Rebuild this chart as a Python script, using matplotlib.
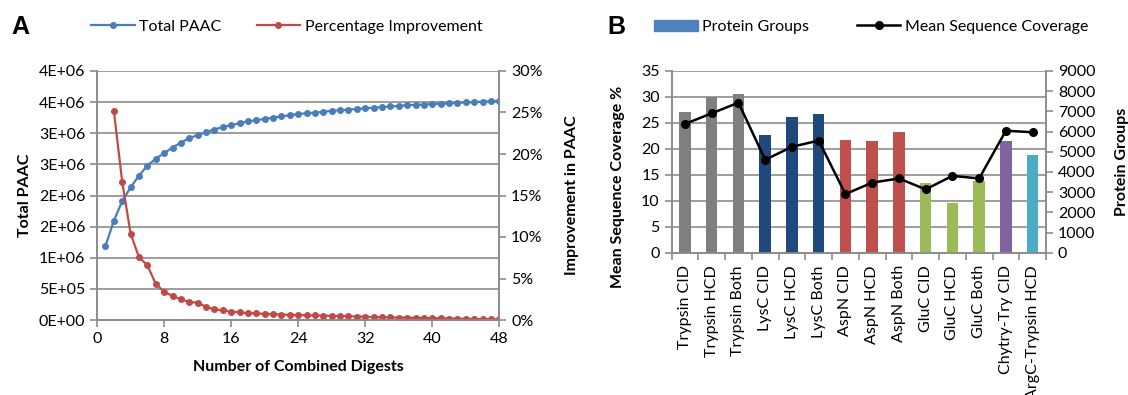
import matplotlib
matplotlib.use('Agg')
import matplotlib.pyplot as plt
from matplotlib.lines import Line2D
from matplotlib.patches import Patch

plt.rcParams['font.family'] = ['Lato', 'DejaVu Sans']

# panel A data
digests = list(range(1, 49))
total_paac = [1.19e6, 1.595e6, 1.91e6, 2.13e6, 2.32e6, 2.48e6, 2.59e6, 2.68e6,
              2.77e6, 2.85e6, 2.92e6, 2.97e6, 3.02e6, 3.06e6, 3.10e6, 3.13e6,
              3.16e6, 3.19e6, 3.21e6, 3.23e6, 3.25e6, 3.27e6, 3.29e6, 3.31e6,
              3.32e6, 3.33e6, 3.345e6, 3.36e6, 3.37e6, 3.38e6, 3.39e6, 3.40e6,
              3.41e6, 3.42e6, 3.43e6, 3.44e6, 3.45e6, 3.455e6, 3.46e6, 3.47e6,
              3.475e6, 3.48e6, 3.49e6, 3.495e6, 3.50e6, 3.51e6, 3.515e6, 3.52e6]
impr_x = list(range(2, 49))
improvement = [25.2, 16.6, 10.4, 7.55, 6.6, 4.34, 3.41, 2.89, 2.49, 2.17, 2.09,
               1.6, 1.29, 1.17, 1.0, 0.92, 0.84, 0.8, 0.74, 0.7, 0.66, 0.62,
               0.6, 0.57, 0.55, 0.52, 0.5, 0.47, 0.45, 0.42, 0.4, 0.37, 0.35,
               0.32, 0.3, 0.28, 0.26, 0.24, 0.22, 0.2, 0.18, 0.16, 0.14, 0.12,
               0.11, 0.1, 0.08]
paac_ticks = [0, 5e5, 1e6, 1.5e6, 2e6, 2.5e6, 3e6, 3.5e6, 4e6]
paac_labels = ['0E+00', '5E+05', '1E+06', '2E+06', '2E+06', '3E+06', '3E+06', '4E+06', '4E+06']
pct_ticks = [0, 5, 10, 15, 20, 25, 30]
x_ticks = [0, 8, 16, 24, 32, 40, 48]

# panel B data
digest_names = ['Trypsin CID', 'Trypsin HCD', 'Trypsin Both', 'LysC CID', 'LysC HCD',
                'LysC Both', 'AspN CID', 'AspN HCD', 'AspN Both', 'GluC CID',
                'GluC HCD', 'GluC Both', 'Chytry-Try CID', 'ArgC-Trypsin HCD']
protein_groups = [6960, 7700, 7850, 5820, 6710, 6860, 5590, 5540, 5980, 3450,
                  2480, 3570, 5520, 4840]
coverage = [24.8, 26.85, 28.9, 17.9, 20.4, 21.6, 11.3, 13.5, 14.3, 12.2, 14.8,
            14.3, 23.5, 23.2]
bar_colors = ['#7f7f7f'] * 3 + ['#1f497d'] * 3 + ['#c0504d'] * 3 + ['#9bbb59'] * 3 + ['#8064a2', '#4bacc6']

grid_c = '#8c8c8c'
blue = '#4a7ebb'
red = '#be4b48'
fs = 11.5

fig = plt.figure(figsize=(11.28, 3.95), dpi=100)

# ---------------- panel A
ax = fig.add_axes([97.1/1128, 1-320/395, 402.2/1128, 249/395])
ax2 = ax.twinx()
ax.plot(digests, total_paac, color=blue, lw=1.6, marker='o', ms=4, zorder=3)
ax2.plot(impr_x, improvement, color=red, lw=1.6, marker='o', ms=4)
ax.set_xlim(0, 48)
ax.set_ylim(0, 4e6)
ax2.set_ylim(0, 30)
ax.set_xticks(x_ticks)
ax.set_yticks(paac_ticks)
ax.set_yticklabels(paac_labels)
ax2.set_yticks(pct_ticks)
ax2.set_yticklabels([str(p) + '%' for p in pct_ticks])
ax.yaxis.grid(True, color=grid_c, lw=1.2)
ax.set_axisbelow(True)
for a in (ax, ax2):
    a.spines['top'].set_visible(False)
    for s in ('left', 'right', 'bottom'):
        a.spines[s].set_color(grid_c)
        a.spines[s].set_linewidth(1.2)
    a.tick_params(colors=grid_c, labelcolor='black', labelsize=fs, length=5, width=1.2)
ax.set_xlabel('Number of Combined Digests', fontsize=fs, fontweight='bold', labelpad=10)
ax.set_ylabel('Total PAAC', fontsize=fs, fontweight='bold', labelpad=5)
ax2.set_ylabel('Improvement in PAAC', fontsize=fs, fontweight='bold', labelpad=16)

fig.text(11/1128, 1-27/395, 'A', fontsize=18, fontweight='bold', va='center',
         family='Liberation Sans')
fig.legend([Line2D([], [], color=blue, lw=1.6, marker='o', ms=4),
            Line2D([], [], color=red, lw=1.6, marker='o', ms=4)],
           ['Total PAAC', 'Percentage Improvement'], ncol=2, frameon=False,
           loc='center left', bbox_to_anchor=(77/1128, 1-27/395), fontsize=fs,
           handlelength=2.7, handletextpad=0.3, columnspacing=2.2)

# ---------------- panel B
bx = fig.add_axes([671.6/1128, 1-252.7/395, 374.4/1128, 181.7/395])
bx2 = bx.twinx()
bx3 = bx.twinx()
pos = list(range(len(digest_names)))
bx2.bar(pos, protein_groups, width=0.43, color=bar_colors)
bx3.plot(pos, coverage, color='black', lw=1.8, marker='o', ms=5.5)
bx.set_xlim(-0.5, 13.5)
bx.set_ylim(0, 35)
bx3.set_ylim(0, 35)
bx2.set_ylim(0, 9000)
bx3.axis('off')
bx.set_yticks(range(0, 36, 5))
bx2.set_yticks(range(0, 9001, 1000))
bx.yaxis.grid(True, color=grid_c, lw=1.2)
bx.set_axisbelow(True)
bx.set_xticks(pos)
bx.set_xticklabels(digest_names, rotation=90)
bx.set_xticks([p + 0.5 for p in range(-1, 14)], minor=True)
bx.tick_params(axis='x', which='major', length=0, pad=9)
bx.tick_params(axis='x', which='minor', length=5, width=1.2, colors=grid_c)
for a in (bx, bx2):
    a.spines['top'].set_visible(False)
    for s in ('left', 'right', 'bottom'):
        a.spines[s].set_color(grid_c)
        a.spines[s].set_linewidth(1.2)
    a.tick_params(axis='y', colors=grid_c, labelcolor='black', labelsize=fs, length=5, width=1.2)
bx.tick_params(axis='x', labelsize=fs)
bx.set_ylabel('Mean Sequence Coverage %', fontsize=fs, fontweight='bold')
bx.yaxis.set_label_coords(-0.124, 0.365)
bx2.set_ylabel('Protein Groups', fontsize=fs, fontweight='bold', labelpad=14)

fig.text(607/1128, 1-27/395, 'B', fontsize=18, fontweight='bold', va='center',
         family='Liberation Sans')
fig.legend([Patch(color='#4f81bd'),
            Line2D([], [], color='black', lw=1.8, marker='o', ms=5.5)],
           ['Protein Groups', 'Mean Sequence Coverage'], ncol=2, frameon=False,
           loc='center left', bbox_to_anchor=(640/1128, 1-27/395), fontsize=fs,
           handlelength=2.7, handletextpad=0.3, columnspacing=3.0)

fig.savefig('out.png', dpi=100)
